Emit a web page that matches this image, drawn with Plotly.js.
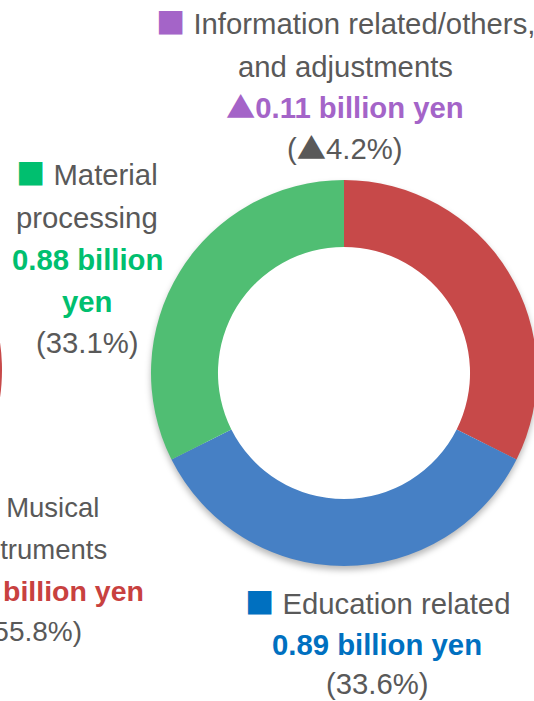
<!DOCTYPE html>
<html><head><meta charset="utf-8">
<script src="https://cdn.plot.ly/plotly-3.0.1.min.js"></script>
<style>
html,body{margin:0;padding:0;overflow:hidden;background:#fff;width:534px;height:701px;}
#wrap{position:absolute;left:-400px;top:0;width:1000px;height:701px;}
</style></head><body><div id="wrap"></div>
<script>
// ---- data ----
const donutCategories = ['Musical instruments', 'Education related', 'Material processing'];
const donutSlices = [32.4, 35.2, 32.4];           // ring share as drawn (clockwise from 12 o'clock)
const leftCategories = ['Musical instruments', 'Other segments'];
const leftSlices = [55.8, 44.2];
const amountInfo = -0.11;      // billion yen
const amountMaterial = 0.88;
const amountEducation = 0.89;
const shareInfo = -4.2;        // %
const shareMaterial = 33.1;
const shareEducation = 33.6;
const shareMusical = 55.8;

// ---- styles ----
const FONT = 'Liberation Sans, Arial, Helvetica, sans-serif';
const FS = 29.3;
const GRAY = '#595959';
const C = {red:'#C74949', blue:'#4680C5', green:'#50BE73', shadow:'rgba(0,0,0,0.28)'};
const T = {red:'#C8413F', blue:'#0070C0', green:'#00BF6F', purple:'#A464C8'};
const W = 1000, H = 701, SHIFT = 400;
const px = x => (x + SHIFT) / W;
const py = y => 1 - y / H;

const CJK = 'font-family:Noto Sans CJK JP';
const TRI = '<span style="' + CJK + '">▲</span>';
const tri = v => (v < 0 ? TRI : '') + Math.abs(v);
const amt = v => (v < 0 ? TRI : '') + Math.abs(v).toFixed(2);
const sq = col => '<span style="color:' + col + ';' + CJK + '">■</span> ';

const ann = [];
function line(text, x, base, color, bold, anchor, size) {
  const adj = text.indexOf('CJK') >= 0 ? 3 : 0;
  ann.push({xref:'paper', yref:'paper', x:px(x), y:py(base - 9 - adj), xanchor:anchor || 'center', yanchor:'middle',
    showarrow:false, text: bold ? '<b>' + text + '</b>' : text,
    font:{family:FONT, size:size || FS, color:color}});
}
// Information related block
line(sq(T.purple) + 'Information related/others,', 345, 33, GRAY);
line('and adjustments', 345, 75, GRAY);
line(amt(amountInfo) + ' billion yen', 345, 117, T.purple, true);
line('(' + tri(shareInfo) + '%)', 345, 158, GRAY);
// Material processing block
line(sq(T.green) + 'Material', 87, 184, GRAY);
line('processing', 87, 226, GRAY);
line(amt(amountMaterial) + ' billion', 87, 268, T.green, true);
line('yen', 87, 310, T.green, true);
line('(' + tri(shareMaterial) + '%)', 87, 351, GRAY);
// Education related block
line(sq(T.blue) + 'Education related', 377, 613, GRAY);
line(amt(amountEducation) + ' billion yen', 377, 653, T.blue, true);
line('(' + tri(shareEducation) + '%)', 377, 692, GRAY);
// Musical instruments block (left chart, cropped by the frame)
line(sq(T.red) + 'Musical', 101, 517, GRAY, false, 'right', 27.5);
line('instruments', 109, 558, GRAY, false, 'right', 27.5);
line('billion yen', 146, 600, T.red, true, 'right', 28.5);
line('(' + tri(shareMusical) + '%)', 84, 640, GRAY, false, 'right', 28);

const rDom = {x:[(344+SHIFT-193)/W, (344+SHIFT+193)/W], y:[(H-566)/H, (H-180)/H]};
const sDom = {x:rDom.x, y:[rDom.y[0]-4/H, rDom.y[1]-4/H]};
const lDom = {x:[(-191+SHIFT-193)/W, (-191+SHIFT+193)/W], y:[(H-563)/H, (H-177)/H]};

const common = {type:'pie', sort:false, direction:'clockwise', rotation:0, textinfo:'none',
  hoverinfo:'none', showlegend:false, marker:{line:{width:0}}};

const traces = [
  Object.assign({}, common, {labels:leftCategories, values:leftSlices, hole:0.653, domain:lDom,
    marker:{colors:[C.red, '#BFBFBF'], line:{width:0}}}),
  Object.assign({}, common, {labels:donutCategories, values:donutSlices, hole:0.8, domain:sDom,
    marker:{colors:[C.shadow, C.shadow, C.shadow], line:{width:0}}}),
  Object.assign({}, common, {labels:donutCategories, values:donutSlices, hole:0.653, domain:rDom,
    marker:{colors:[C.red, C.blue, C.green], line:{width:0}}})
];

Plotly.newPlot('wrap', traces, {
  width:W, height:H, margin:{l:0,r:0,t:0,b:0}, paper_bgcolor:'#fff',
  font:{family:FONT}, annotations:ann
}, {staticPlot:true}).then(() => {
  const tr = document.querySelectorAll('.pielayer .trace');
  if (tr[1]) tr[1].style.filter = 'blur(3px)';
});
</script></body></html>
